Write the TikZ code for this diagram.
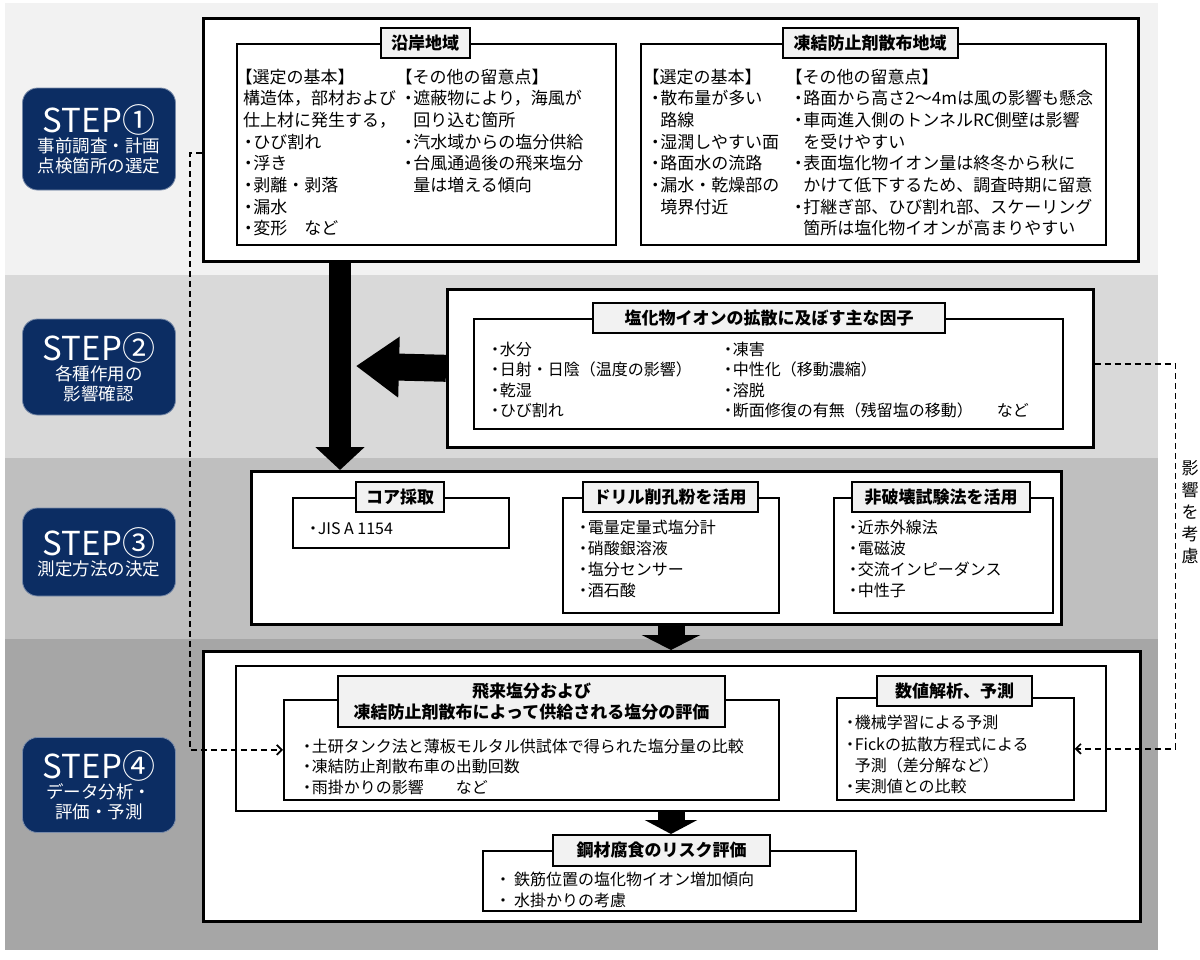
\documentclass[tikz,border=0pt]{standalone}
\usepackage{fontspec}
\setmainfont{Noto Sans CJK JP}
\usepackage{tikz}
\usetikzlibrary{arrows.meta}
\definecolor{bandA}{HTML}{F2F2F2}
\definecolor{bandB}{HTML}{D9D9D9}
\definecolor{bandC}{HTML}{BFBFBF}
\definecolor{bandD}{HTML}{A6A6A6}
\definecolor{navy}{HTML}{0C2D63}
\definecolor{titlefill}{HTML}{F2F2F2}
\tikzset{>={Straight Barb[length=5pt,width=10pt]}}
\tikzset{
  stepbox/.style={fill=navy, draw=navy!55!white, line width=0.8pt, rounded corners=15pt,
    text=white, align=center, minimum width=153pt, inner sep=0pt,
    font=\fontsize{17.5}{20}\selectfont},
  outerbox/.style={draw, line width=2.6pt, fill=white, inner sep=0pt, anchor=north west},
  innerbox/.style={draw, line width=1.7pt, fill=white, inner sep=0pt, anchor=north west},
  titlebox/.style={draw, line width=2pt, fill=titlefill, inner sep=0pt, align=center,
    minimum height=30pt, font=\bfseries\fontsize{17}{21}\selectfont},
  txt/.style 2 args={anchor=north west, inner sep=0pt, align=left,
    font=\fontsize{#1}{#2}\selectfont, execute at begin node={\rule{0pt}{0.88em}}},
  blockarrow/.style n args={3}{line width=#1, -{Triangle[width=#2,length=#3]}},
  dashline/.style={line width=1.7pt, dash pattern=on 6pt off 4pt, ->}
}
\newcommand{\itm}{\makebox[0.6em][l]{\hspace*{-0.2em}・}}
\newcommand{\ind}{\hspace*{0.6em}}
\newcommand{\lbr}{\hspace*{-0.45em}}

\begin{document}
\begin{tikzpicture}[x=1pt,y=-1pt]
  \useasboundingbox (0,0) rectangle (1200,959);
  % background bands
  \fill[bandA] (5,3) rectangle (1158,275);
  \fill[bandB] (5,275) rectangle (1158,458);
  \fill[bandC] (5,458) rectangle (1158,639);
  \fill[bandD] (5,639) rectangle (1158,950);

  % step labels
  \node[stepbox, minimum height=102] (st1) at (99,139)
    {{\fontsize{33}{36}\selectfont STEP①}\\事前調査・計画\\点検箇所の選定};
  \node[stepbox, minimum height=96] (st2) at (99,367)
    {{\fontsize{33}{36}\selectfont STEP②}\\各種作用の\\影響確認};
  \node[stepbox, minimum height=88] (st3) at (99,552)
    {{\fontsize{33}{36}\selectfont STEP③}\\測定方法の決定};
  \node[stepbox, minimum height=95] (st4) at (99,785)
    {{\fontsize{33}{36}\selectfont STEP④}\\データ分析・\\評価・予測};

  % outer boxes
  \node[outerbox, minimum width=935, minimum height=243] (s1) at (202,17) {};
  \node[outerbox, minimum width=646, minimum height=158] (s2) at (446,288) {};
  \node[outerbox, minimum width=810, minimum height=153] (s3) at (250,470) {};
  \node[outerbox, minimum width=937, minimum height=270] (s4) at (202,650) {};

  % STEP1
  \node[innerbox, minimum width=379, minimum height=201] (coast) at (236,43) {};
  \node[innerbox, minimum width=465, minimum height=201] (deice) at (640,43) {};
  \node[titlebox, minimum width=89] (tcoast) at (425,43) {沿岸地域};
  \node[titlebox, minimum width=175] (tdeice) at (870,43) {凍結防止剤散布地域};
  \node[txt={17}{21.7}] (coastA) at (243,68.5)
    {\lbr【選定の基本】\\構造体，部材および\\仕上材に発生する，\\\itm ひび割れ\\\itm 浮き\\\itm 剥離・剥落\\\itm 漏水\\\itm 変形　など};
  \node[txt={17}{21.7}] (coastB) at (403,68.5)
    {\lbr【その他の留意点】\\\itm 遮蔽物により，海風が\\\ind 回り込む箇所\\\itm 汽水域からの塩分供給\\\itm 台風通過後の飛来塩分\\\ind 量は増える傾向};
  \node[txt={17}{21.7}] (deiceA) at (650,68.5)
    {\lbr【選定の基本】\\\itm 散布量が多い\\\ind 路線\\\itm 湿潤しやすい面\\\itm 路面水の流路\\\itm 漏水・乾燥部の\\\ind 境界付近};
  \node[txt={17}{21.7}] (deiceB) at (793,68.5)
    {\lbr【その他の留意点】\\\itm 路面から高さ2～4mは風の影響も懸念\\\itm 車両進入側のトンネルRC側壁は影響\\\ind を受けやすい\\\itm 表面塩化物イオン量は終冬から秋に\\\ind かけて低下するため、調査時期に留意\\\itm 打継ぎ部、ひび割れ部、スケーリング\\\ind 箇所は塩化物イオンが高まりやすい};

  % STEP2
  \node[innerbox, minimum width=589, minimum height=110] (factor) at (473,318) {};
  \node[titlebox, minimum width=352] (tfactor) at (769,318) {塩化物イオンの拡散に及ぼす主な因子};
  \node[txt={16}{20.3}] (factorA) at (490,342)
    {\itm 水分\\\itm 日射・日陰（温度の影響）\\\itm 乾湿\\\itm ひび割れ};
  \node[txt={16}{20.3}] (factorB) at (723,342)
    {\itm 凍害\\\itm 中性化（移動濃縮）\\\itm 溶脱\\\itm 断面修復の有無（残留塩の移動）\hspace{1.5em}など};

  % STEP3
  \node[innerbox, minimum width=216, minimum height=50] (core) at (292,497) {};
  \node[innerbox, minimum width=216, minimum height=115] (drill) at (562,497) {};
  \node[innerbox, minimum width=219, minimum height=115] (ndt) at (833,497) {};
  \node[titlebox, minimum width=88] (tcore) at (400,497) {コア採取};
  \node[titlebox, minimum width=175] (tdrill) at (670,497) {ドリル削孔粉を活用};
  \node[titlebox, minimum width=178] (tndt) at (941,497) {非破壊試験法を活用};
  \node[txt={16}{21}] (coreA) at (308,520) {\itm JIS A 1154};
  \node[txt={16}{21}] (drillA) at (578,520)
    {\itm 電量定量式塩分計\\\itm 硝酸銀溶液\\\itm 塩分センサー\\\itm 酒石酸};
  \node[txt={16}{21}] (ndtA) at (848,520)
    {\itm 近赤外線法\\\itm 電磁波\\\itm 交流インピーダンス\\\itm 中性子};

  % STEP4
  \node[innerbox, minimum width=870, minimum height=145] (evalall) at (235,665) {};
  \node[innerbox, minimum width=495, minimum height=100] (salt) at (283,699) {};
  \node[innerbox, minimum width=237, minimum height=102] (model) at (836,697) {};
  \node[innerbox, minimum width=373, minimum height=60] (risk) at (482,850) {};
  \node[titlebox, minimum width=387, minimum height=51] (tsalt) at (531.5,701.5)
    {飛来塩分および\\凍結防止剤散布によって供給される塩分の評価};
  \node[titlebox, minimum width=155] (tmodel) at (954.5,691) {数値解析、予測};
  \node[titlebox, minimum width=217, minimum height=31] (trisk) at (661.5,850.5) {鋼材腐食のリスク評価};
  \node[txt={16}{20.3}] (saltA) at (302,739)
    {\itm 土研タンク法と薄板モルタル供試体で得られた塩分量の比較\\\itm 凍結防止剤散布車の出動回数\\\itm 雨掛かりの影響\hspace{2em}など};
  \node[txt={16}{21.3}] (modelA) at (845,715)
    {\itm 機械学習による予測\\\itm Fickの拡散方程式による\\\ind 予測（差分解など）\\\itm 実測値との比較};
  \node[txt={16}{21}] (riskA) at (498,872)
    {\itm\hspace{0.4em}鉄筋位置の塩化物イオン増加傾向\\\itm\hspace{0.4em}水掛かりの考慮};

  % block arrows
  \coordinate (tipL) at (356,366);
  \draw[blockarrow={22pt}{48pt}{23pt}] ([xshift=138pt]s1.south west) -- ([xshift=90pt]s3.north west);
  \draw[blockarrow={27pt}{58pt}{43pt}] (s2.west) -- (tipL);
  \draw[blockarrow={27pt}{58pt}{15pt}] ([xshift=421pt]s3.south west) -- ([xshift=469pt]s4.north west);
  \draw[blockarrow={27pt}{52pt}{14pt}] ([xshift=436pt]evalall.south west) -- ([xshift=9.5pt]trisk.north);

  % dashed feedback
  \draw[dashline] ([yshift=-13pt]s1.west) -- ++(-12,0) |- (salt.west);
  \draw[dashline] ([yshift=4pt]s2.east) -- ++(81,0) |- (model.east);
  \node[align=center, inner sep=0pt, font=\fontsize{17}{22}\selectfont] (effect) at (1190,512)
    {影\\響\\を\\考\\慮};
\end{tikzpicture}
\end{document}
